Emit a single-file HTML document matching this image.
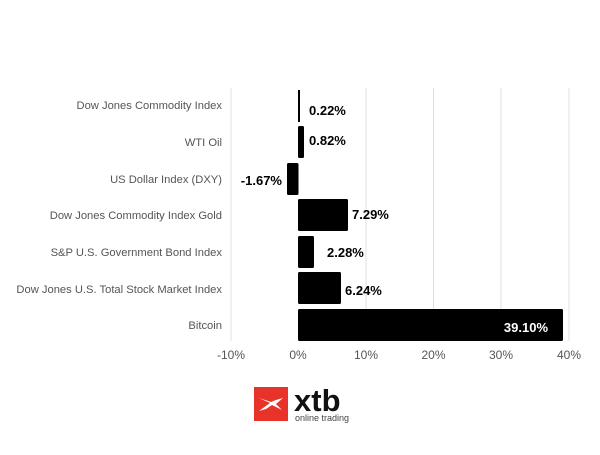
<!DOCTYPE html>
<html><head><style>
body{margin:0;background:#fff;}
svg text{font-family:"Liberation Sans",sans-serif;}
</style></head><body>
<svg width="600" height="450" xmlns="http://www.w3.org/2000/svg">
<g stroke="#e0e0e0" stroke-width="1">
<line x1="231" y1="88" x2="231" y2="341"/>
<line x1="366" y1="88" x2="366" y2="341"/>
<line x1="433.5" y1="88" x2="433.5" y2="341"/>
<line x1="501" y1="88" x2="501" y2="341"/>
<line x1="569" y1="88" x2="569" y2="341"/>
</g>
<g fill="#000">
<rect x="298" y="90" width="2" height="32"/>
<rect x="298" y="126" width="6" height="32" rx="1.5"/>
<rect x="287" y="163" width="11.5" height="32" rx="1.5"/>
<rect x="298" y="199" width="50" height="32" rx="1.5"/>
<rect x="298" y="236" width="16" height="32" rx="1.5"/>
<rect x="298" y="272" width="43" height="32" rx="1.5"/>
<rect x="298" y="309" width="265" height="32" rx="1.5"/>
</g>
<g font-size="11.2" fill="#555" text-anchor="end">
<text x="222" y="109">Dow Jones Commodity Index</text>
<text x="222" y="146">WTI Oil</text>
<text x="222" y="183">US Dollar Index (DXY)</text>
<text x="222" y="219">Dow Jones Commodity Index Gold</text>
<text x="222" y="256">S&amp;P U.S. Government Bond Index</text>
<text x="222" y="293">Dow Jones U.S. Total Stock Market Index</text>
<text x="222" y="329">Bitcoin</text>
</g>
<g font-size="13" font-weight="bold" fill="#000">
<text x="309" y="115">0.22%</text>
<text x="309" y="145">0.82%</text>
<text x="282" y="185" text-anchor="end">-1.67%</text>
<text x="352" y="219">7.29%</text>
<text x="327" y="257">2.28%</text>
<text x="345" y="295">6.24%</text>
<text x="548" y="332" text-anchor="end" fill="#fff">39.10%</text>
</g>
<g font-size="12" fill="#555" text-anchor="middle">
<text x="231" y="359">-10%</text>
<text x="298" y="359">0%</text>
<text x="366" y="359">10%</text>
<text x="433.5" y="359">20%</text>
<text x="501" y="359">30%</text>
<text x="569" y="359">40%</text>
</g>
<rect x="254" y="387" width="34" height="34" fill="#e8332a"/>
<path d="M259 398 L270 403 L259 411 L266 409 L272 405 L282 410 L276 404 L283 398 L276 400 L271 402 Z" fill="#fff"/>
<text x="294" y="411" font-size="31" font-weight="bold" fill="#111">xtb</text>
<text x="295" y="421" font-size="9" fill="#444">online trading</text>
</svg>
</body></html>
